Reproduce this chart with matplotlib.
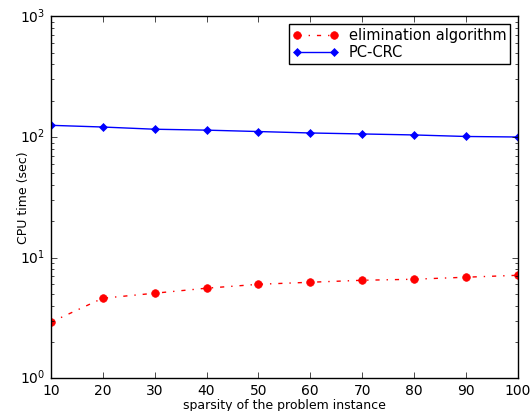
import numpy as np
import matplotlib
matplotlib.use("Agg")
import matplotlib.pyplot as plt

sparsity = [10, 20, 30, 40, 50, 60, 70, 80, 90, 100]
elim_time = [2.91, 4.6, 5.06, 5.57, 6.0, 6.24, 6.48, 6.61, 6.87, 7.13]
pccrc_time = [125, 121, 116, 114, 111, 108, 106, 104, 101, 100]

plt.style.use('classic')
plt.rcParams['font.size'] = 10

fig = plt.figure(figsize=(5.3, 4.11), dpi=100)
fig.patch.set_facecolor('white')
ax = fig.add_axes([0.096, 0.08, 0.881, 0.88])

ax.semilogy(sparsity, elim_time, 'r-.', marker='o', markersize=5.5, markeredgecolor='r',
            label='elimination algorithm')
ax.semilogy(sparsity, pccrc_time, 'b-', marker='D', markersize=4.5, markeredgecolor='b',
            label='PC-CRC')
ax.set_xlim(10, 100)
ax.set_ylim(1, 1000)
ax.set_xlabel('sparsity of the problem instance', fontsize=9, labelpad=1)
ax.set_ylabel('CPU time (sec)', fontsize=9, labelpad=-7)
ax.legend(loc='upper right', fontsize=10.5, numpoints=2, borderaxespad=0.55,
          handlelength=3.1, handletextpad=0.7, labelspacing=0.15, borderpad=0.25)

fig.savefig('out.png', dpi=100, facecolor='white')
